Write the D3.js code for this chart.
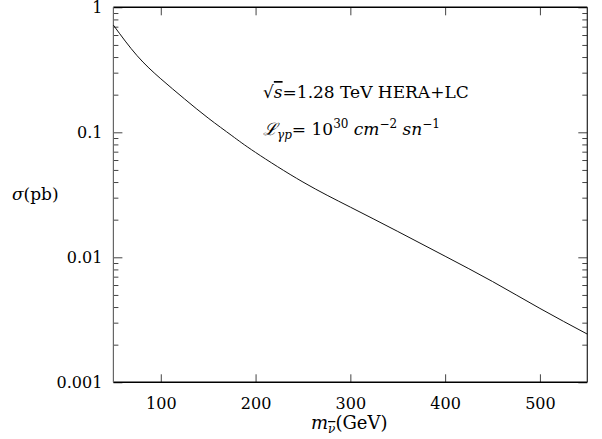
<!DOCTYPE html>
<html>
<head>
<meta charset="utf-8">
<script src="https://cdn.jsdelivr.net/npm/d3@7"></script>
<style>
  body { margin: 0; background: #fff; overflow: hidden; }
  svg { display: block; }
</style>
</head>
<body>
<svg id="chart"></svg>
<script>
// values
let massGeV = [50, 75, 100, 125, 150, 175, 200, 250, 300, 350, 400, 450, 500, 550]
let sigmaPb = [0.72, 0.41, 0.268, 0.185, 0.130, 0.094, 0.069, 0.040, 0.0252, 0.0161, 0.0102, 0.0064, 0.0039, 0.00243]
let xTicks = [100, 200, 300, 400, 500]
let yTicks = [0.001, 0.01, 0.1, 1]
let yTickLabels = ['0.001', '0.01', '0.1', '1']

let serif = "'DejaVu Serif', serif"

let outerWidth = 602
let outerHeight = 439
let margins = { top: 7.3, bottom: 56.7, left: 113.4, right: 14.7 }
let innerWidth = outerWidth - margins.left - margins.right
let innerHeight = outerHeight - margins.top - margins.bottom

let svg = d3.select('#chart')
  .attr('width', outerWidth)
  .attr('height', outerHeight)

let inner = svg.append('g')
  .attr('transform', 'translate(' + margins.left + ',' + margins.top + ')')

let xScale = d3.scaleLinear().domain([50, 550]).range([0, innerWidth])
let yScale = d3.scaleLog().domain([0.001, 1]).range([innerHeight, 0])

// minor ticks 2..9 per decade
let minorTicks = []
for (let d of [0.001, 0.01, 0.1]) {
  for (let k = 2; k <= 9; k++) minorTicks.push(d * k)
}

function styleAxis(g, withLabels) {
  g.attr('font-family', serif).attr('font-size', 16)
  g.select('.domain').remove()
  g.selectAll('.tick line').attr('stroke', '#444').attr('stroke-width', 1)
  if (withLabels) g.selectAll('.tick text').attr('fill', '#000')
  else g.selectAll('.tick text').remove()
}

// bottom axis
inner.append('g')
  .attr('transform', 'translate(0,' + innerHeight + ')')
  .call(d3.axisBottom(xScale).tickValues(xTicks).tickFormat(d3.format('d'))
    .tickSizeInner(-8).tickSizeOuter(0).tickPadding(15))
  .call(styleAxis, true)

// top axis (ticks only)
inner.append('g')
  .call(d3.axisTop(xScale).tickValues(xTicks).tickSizeInner(-8).tickSizeOuter(0))
  .call(styleAxis, false)

// left axis
inner.append('g')
  .call(d3.axisLeft(yScale).tickValues(yTicks).tickFormat((d, i) => yTickLabels[i])
    .tickSizeInner(-9).tickSizeOuter(0).tickPadding(11))
  .call(styleAxis, true)

inner.append('g')
  .call(d3.axisLeft(yScale).tickValues(minorTicks).tickSizeInner(-5).tickSizeOuter(0))
  .call(styleAxis, false)

// right axis
inner.append('g')
  .attr('transform', 'translate(' + innerWidth + ',0)')
  .call(d3.axisRight(yScale).tickValues(yTicks).tickSizeInner(-9).tickSizeOuter(0))
  .call(styleAxis, false)

inner.append('g')
  .attr('transform', 'translate(' + innerWidth + ',0)')
  .call(d3.axisRight(yScale).tickValues(minorTicks).tickSizeInner(-5).tickSizeOuter(0))
  .call(styleAxis, false)

// frame
inner.append('line').attr('x1', 0).attr('x2', innerWidth).attr('y1', 0).attr('y2', 0)
  .attr('stroke', '#000').attr('stroke-width', 1.5)
inner.append('line').attr('x1', 0).attr('x2', innerWidth).attr('y1', innerHeight).attr('y2', innerHeight)
  .attr('stroke', '#000').attr('stroke-width', 1.5)
inner.append('line').attr('x1', 0).attr('x2', 0).attr('y1', 0).attr('y2', innerHeight)
  .attr('stroke', '#666').attr('stroke-width', 1.2)
inner.append('line').attr('x1', innerWidth).attr('x2', innerWidth).attr('y1', 0).attr('y2', innerHeight)
  .attr('stroke', '#222').attr('stroke-width', 1.2)

// curve
let lineGen = d3.line()
  .x((d, i) => xScale(massGeV[i]))
  .y(d => yScale(d))
  .curve(d3.curveNatural)

inner.append('path')
  .attr('d', lineGen(sigmaPb))
  .attr('fill', 'none')
  .attr('stroke', '#111')
  .attr('stroke-width', 1)

// y title
let yTitle = svg.append('text')
  .attr('x', 12)
  .attr('y', 200)
  .attr('font-family', serif)
  .attr('font-size', 17)
yTitle.append('tspan').attr('font-style', 'italic').text('σ')
yTitle.append('tspan').text('(pb)')

// x title
let xTitle = svg.append('text')
  .attr('x', 311)
  .attr('y', 429)
  .attr('font-family', serif)
  .attr('font-size', 18)
xTitle.append('tspan').attr('font-style', 'italic').text('m')
xTitle.append('tspan').attr('dy', 4).attr('font-size', 12).attr('font-style', 'italic')
  .attr('text-decoration', 'overline').text('ν')
xTitle.append('tspan').attr('dy', -4).text('(GeV)')

// annotation
let note1 = svg.append('text')
  .attr('x', 263)
  .attr('y', 98)
  .attr('font-family', serif)
  .attr('font-size', 17)
note1.append('tspan').text('√')
note1.append('tspan').attr('font-style', 'italic').attr('text-decoration', 'overline').text('s')
note1.append('tspan').text('=1.28 TeV HERA+LC')

let note2 = svg.append('text')
  .attr('x', 263)
  .attr('y', 135)
  .attr('font-family', serif)
  .attr('font-size', 17)
note2.append('tspan').attr('font-style', 'italic').text('ℒ')
note2.append('tspan').attr('dy', 4).attr('font-size', 12).attr('font-style', 'italic').text('γp')
note2.append('tspan').attr('dy', -4).text('= 10')
note2.append('tspan').attr('dy', -7).attr('font-size', 12).text('30')
note2.append('tspan').attr('dy', 7).attr('font-style', 'italic').text(' cm')
note2.append('tspan').attr('dy', -7).attr('font-size', 12).text('−2')
note2.append('tspan').attr('dy', 7).attr('font-style', 'italic').text(' sn')
note2.append('tspan').attr('dy', -7).attr('font-size', 12).text('−1')
</script>
</body>
</html>
